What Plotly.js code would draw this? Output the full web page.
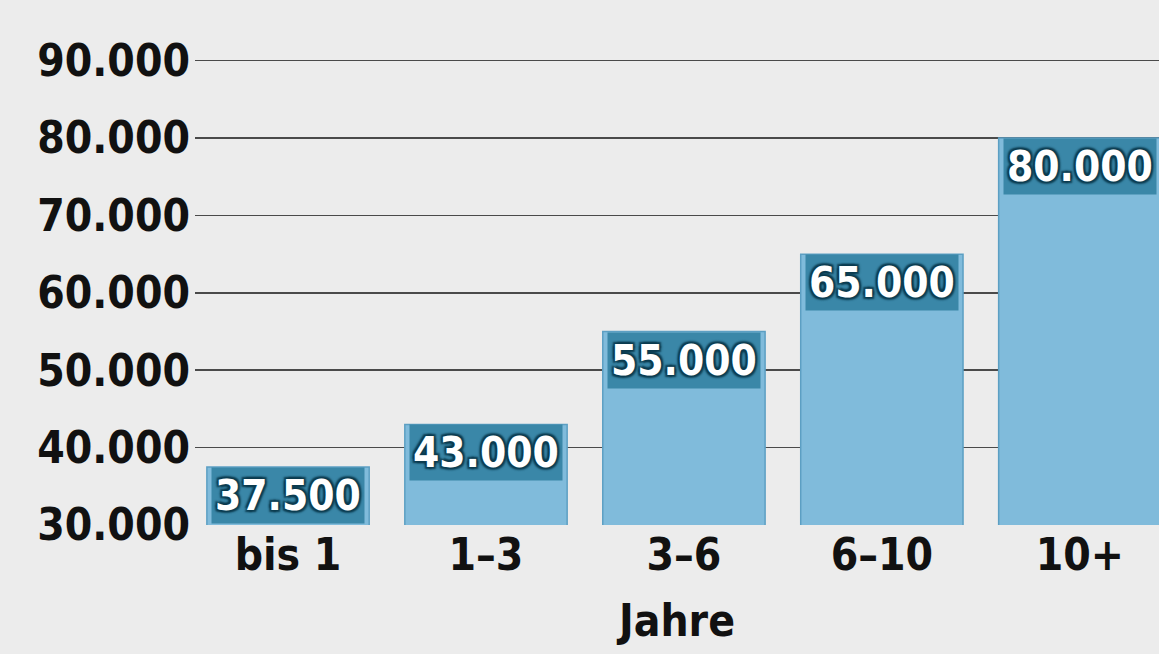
<!DOCTYPE html>
<html>
<head>
<meta charset="utf-8">
<script src="https://cdn.plot.ly/plotly-3.0.1.min.js"></script>
<style>html,body{margin:0;padding:0;background:#ececec;}#chart{width:1159px;height:654px;}</style>
</head>
<body>
<div id="chart"></div>
<script>
var categories = ["bis 1", "1–3", "3–6", "6–10", "10+"];
var salaries = [37500, 43000, 55000, 65000, 80000];
var yTickValues = [30000, 40000, 50000, 60000, 70000, 80000, 90000];
var yTickLabels = ["30.000", "40.000", "50.000", "60.000", "70.000", "80.000", "90.000"];
var xAxisTitle = "Jahre";

function fmt(v) { return v.toString().replace(/\B(?=(\d{3})+(?!\d))/g, "."); }

var FONT = "DejaVu Sans Condensed, DejaVu Sans, sans-serif";

var trace = {
  type: "bar",
  x: categories.map(function(c, i){ return i; }),
  y: salaries,
  marker: { color: "#80bbdb", line: { color: "#5c9fc3", width: 1.5 } },
  hoverinfo: "skip"
};

var annotations = salaries.map(function(v, i) {
  return {
    x: i, y: v, xref: "x", yref: "y",
    text: fmt(v), showarrow: false,
    yanchor: "top", xanchor: "center",
    bgcolor: "#3a87a8",
    borderpad: 3,
    font: { family: FONT, size: 42, color: "#ffffff", weight: "bold",
            shadow: "2px 2px 2px #0b3b4f, -2px -2px 2px #0b3b4f, 2px -2px 2px #0b3b4f, -2px 2px 2px #0b3b4f" }
  };
});

var layout = {
  width: 1159, height: 654,
  paper_bgcolor: "#ececec", plot_bgcolor: "#ececec",
  margin: { l: 195, r: 0, t: 58, b: 129 },
  showlegend: false,
  bargap: 0.18,
  xaxis: {
    range: [-0.47, 4.4],
    automargin: true,
    tickmode: "array",
    tickvals: categories.map(function(c, i){ return i; }),
    ticktext: categories,
    showgrid: false, zeroline: false, showline: false, ticks: "",
    tickfont: { family: FONT, size: 44, color: "#111111", weight: "bold" },
    title: { text: xAxisTitle, font: { family: FONT, size: 44, color: "#111111", weight: "bold" }, standoff: 26 }
  },
  yaxis: {
    range: [30000, 90350],
    tickmode: "array",
    tickvals: yTickValues,
    ticktext: yTickLabels,
    showgrid: true, gridcolor: "#4a4a4a", gridwidth: 1.5,
    zeroline: false, showline: false, ticks: "",
    ticklabelstandoff: 4,
    tickfont: { family: FONT, size: 44, color: "#111111", weight: "bold" }
  },
  annotations: annotations
};

Plotly.newPlot("chart", [trace], layout, { displayModeBar: false, staticPlot: true });
</script>
</body>
</html>
